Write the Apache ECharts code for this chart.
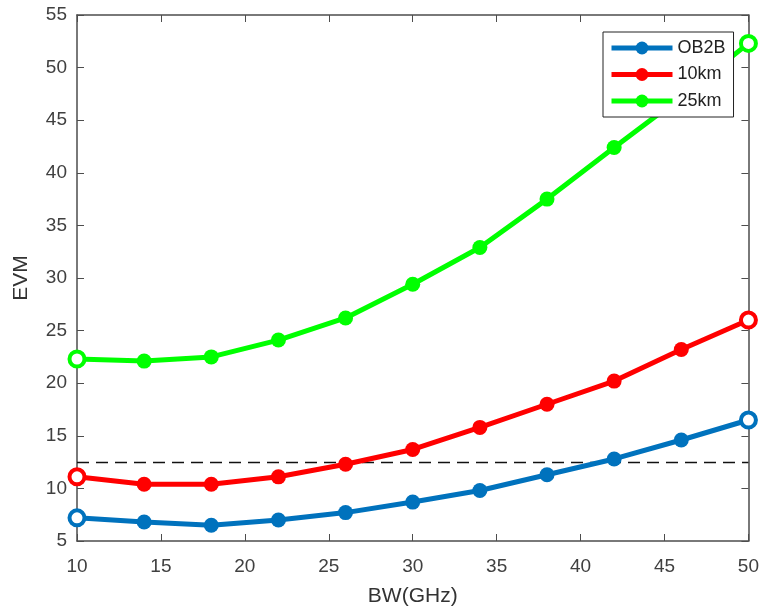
<!DOCTYPE html>
<html>
<head>
<meta charset="utf-8">
<script src="https://cdn.jsdelivr.net/npm/echarts@6/dist/echarts.min.js"></script>
<style>html,body{margin:0;padding:0;background:#fff;}#c{width:762px;height:612px;}</style>
</head>
<body>
<div id="c"></div>
<script>
const bw = [10, 14, 18, 22, 26, 30, 34, 38, 42, 46, 50];
const ob2b = [7.2, 6.8, 6.5, 7.0, 7.7, 8.7, 9.8, 11.3, 12.8, 14.6, 16.5];
const km10 = [11.1, 10.4, 10.4, 11.1, 12.3, 13.7, 15.8, 18.0, 20.2, 23.2, 26.0];
const km25 = [22.3, 22.1, 22.5, 24.1, 26.2, 29.4, 32.9, 37.5, 42.4, 47.2, 52.3];
const threshold = 12.5;
const seriesNames = ['OB2B', '10km', '25km'];
const colors = ['#0072BD', '#FF0000', '#00FF00'];

function pts(vals, color) {
  return vals.map((v, i) => {
    const p = {value: [bw[i], v]};
    if (i === 0 || i === vals.length - 1) {
      p.itemStyle = {color: '#ffffff', borderColor: color, borderWidth: 4};
    }
    return p;
  });
}

const chart = echarts.init(document.getElementById('c'));
const axisCol = '#4d4d4d';
const fam = 'Liberation Sans, Arial, sans-serif';
const tickStyle = {color: '#404040', fontSize: 19, fontFamily: fam};
const nameStyle = {color: '#333', fontSize: 21, fontFamily: fam};
const allVals = [ob2b, km10, km25];
const series = allVals.map((vals, k) => ({
  name: seriesNames[k],
  type: 'line',
  data: pts(vals, colors[k]),
  symbol: 'circle',
  symbolSize: 15,
  lineStyle: {width: 5, color: colors[k]},
  itemStyle: {color: colors[k]},
  z: 3 + k
}));
series[0].markLine = {
  silent: true,
  symbol: ['none', 'none'],
  label: {show: false},
  lineStyle: {type: [12, 7], color: '#111', width: 1.3},
  data: [{yAxis: threshold}],
  z: 1
};

chart.setOption({
  animation: false,
  backgroundColor: '#fff',
  color: colors,
  grid: {left: 77, right: 13, top: 15, bottom: 68, containLabel: false},
  legend: {
    orient: 'vertical',
    left: 603, top: 32,
    z: 20, zlevel: 1,
    backgroundColor: '#fff',
    borderColor: '#222', borderWidth: 1,
    padding: [7, 8, 7, 6],
    itemGap: 8.5,
    itemWidth: 61, itemHeight: 16,
    lineStyle: {width: 5},
    textStyle: {color: '#222', fontSize: 18, fontFamily: fam},
    data: seriesNames
  },
  xAxis: [{
    type: 'value', min: 10, max: 50, interval: 5,
    name: 'BW(GHz)', nameLocation: 'middle', nameGap: 45, nameMoveOverlap: false,
    nameTextStyle: nameStyle,
    axisLine: {show: true, lineStyle: {color: axisCol, width: 1.5}},
    axisTick: {show: true, inside: true, length: 7, lineStyle: {color: axisCol}},
    axisLabel: Object.assign({margin: 16}, tickStyle),
    splitLine: {show: false}
  }, {
    type: 'value', min: 10, max: 50, interval: 5, position: 'top',
    axisLine: {show: true, lineStyle: {color: axisCol, width: 1.5}},
    axisTick: {show: true, inside: true, length: 7, lineStyle: {color: axisCol}},
    axisLabel: {show: false}, splitLine: {show: false}
  }],
  yAxis: [{
    type: 'value', min: 5, max: 55, interval: 5,
    name: 'EVM', nameLocation: 'middle', nameGap: 45, nameRotate: 90, nameMoveOverlap: false,
    nameTextStyle: nameStyle,
    axisLine: {show: true, lineStyle: {color: axisCol, width: 1.5}},
    axisTick: {show: true, inside: true, length: 7, lineStyle: {color: axisCol}},
    axisLabel: Object.assign({margin: 10}, tickStyle),
    splitLine: {show: false}
  }, {
    type: 'value', min: 5, max: 55, interval: 5, position: 'right',
    axisLine: {show: true, lineStyle: {color: axisCol, width: 1.5}},
    axisTick: {show: true, inside: true, length: 7, lineStyle: {color: axisCol}},
    axisLabel: {show: false}, splitLine: {show: false}
  }],
  series: series
});
</script>
</body>
</html>
